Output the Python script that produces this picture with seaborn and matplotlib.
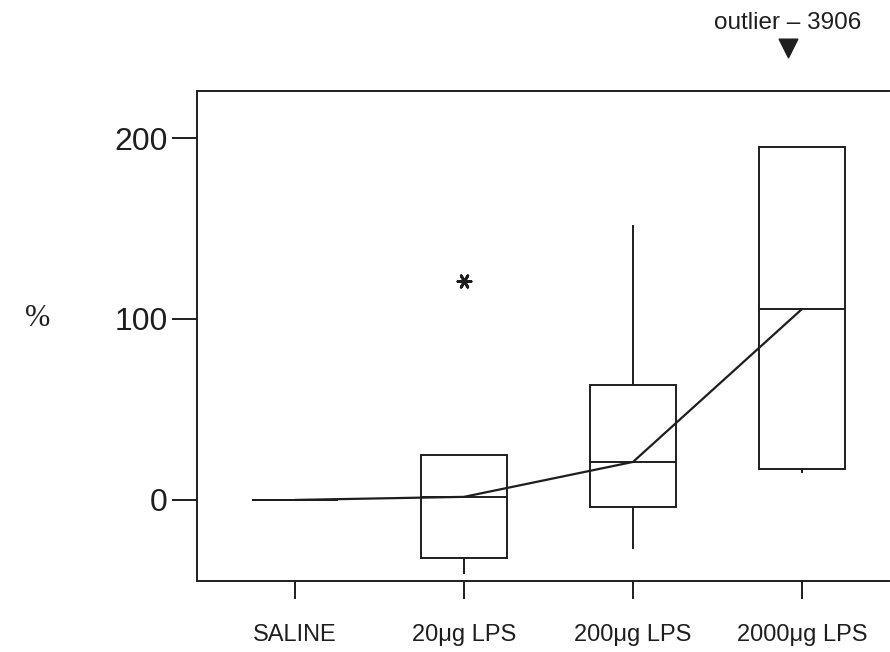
import numpy as np
import pandas as pd
import matplotlib
matplotlib.use("Agg")
import matplotlib.pyplot as plt
import seaborn as sns

# Category labels
categories = ["SALINE", "20\u03bcg LPS", "200\u03bcg LPS", "2000\u03bcg LPS"]

# Five-number summaries: [low whisker, Q1, median, Q3, high whisker]
saline_vals = [0.0, 0.0, 0.0, 0.0, 0.0]
lps20_vals = [-41.0, -32.0, 1.7, 25.0, 25.0]
lps200_vals = [-27.0, -3.9, 21.0, 63.5, 152.0]
lps2000_vals = [15.0, 17.0, 105.5, 195.0, 195.0]

# Outliers
outlier_cat = [1]
outlier_val = [121.0]
offscale_label = "outlier \u2013 3906"

y_ticks = [0, 100, 200]

groups = [saline_vals, lps20_vals, lps200_vals, lps2000_vals]
df = pd.DataFrame({
    "group": [c for c, g in zip(categories, groups) for _ in g],
    "value": [v for g in groups for v in g],
})
medians = [g[2] for g in groups]

sns.set_theme(style="white")
plt.rcParams["font.family"] = ["Liberation Sans", "DejaVu Sans"]

INK = "#1e1e1e"

fig = plt.figure(figsize=(8.9, 6.52), dpi=100)
ax = fig.add_axes([197 / 890, 71 / 652, (889 - 197) / 890, (581 - 91) / 652])

sns.boxplot(data=df, x="group", y="value", order=categories, ax=ax,
            width=0.51, color="white", linecolor=INK, linewidth=1.4,
            whis=np.inf, showfliers=False, showcaps=False)

sns.lineplot(x=list(range(len(categories))), y=medians, ax=ax,
             color=INK, linewidth=1.6)

sns.scatterplot(x=outlier_cat, y=outlier_val, ax=ax, marker=(6, 2, 30),
                s=90, color=INK, linewidth=2.0, edgecolor=INK)

ax.set_xlim(-0.58, 3.515)
ax.set_ylim(-44.8, 226)
ax.set_yticks(y_ticks)
ax.set_yticklabels([str(t) for t in y_ticks])
ax.set_xlabel("")
ax.set_ylabel("")

for s in ["left", "top", "bottom"]:
    ax.spines[s].set_visible(True)
    ax.spines[s].set_color(INK)
    ax.spines[s].set_linewidth(1.4)
ax.spines["right"].set_visible(False)

ax.tick_params(axis="y", which="major", direction="out", length=18, width=1.4,
               color=INK, pad=3, labelsize=23, left=True)
ax.tick_params(axis="x", which="major", direction="out", length=13, width=1.4,
               color=INK, pad=18, labelsize=17, bottom=True)
for lab in ax.get_xticklabels() + ax.get_yticklabels():
    lab.set_color(INK)

fig.text(25 / 890, 1 - 319 / 652, "%", family=["Liberation Serif", "DejaVu Serif"],
         fontsize=22, color=INK, ha="left", va="center")

# off-scale outlier marker above the 2000 µg box
ax.scatter([3 - 0.083], [249.5], marker="v", s=180, color=INK, clip_on=False)
ax.text(3 - 0.083, 263.5, offscale_label, ha="center", va="center", fontsize=17.5,
        color=INK, clip_on=False)

fig.savefig("out.png", dpi=100, facecolor="white")
